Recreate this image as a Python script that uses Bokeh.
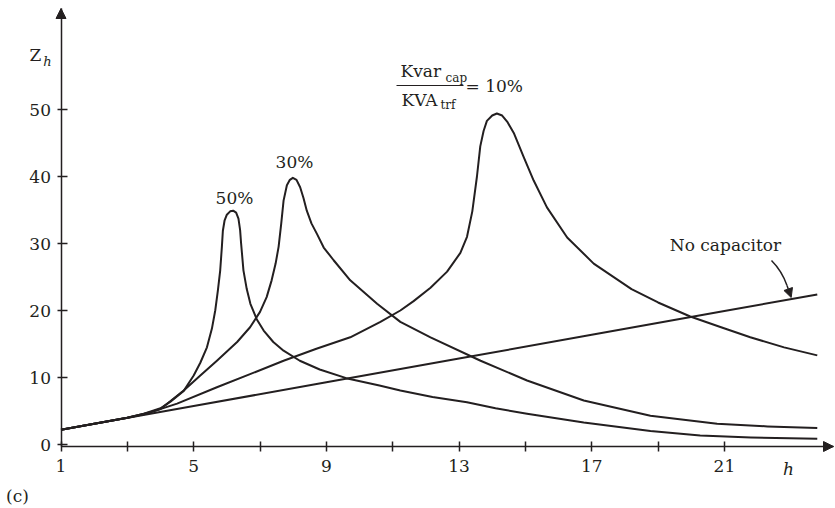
from bokeh.plotting import figure
from bokeh.models import Range1d, FixedTicker, Label, Arrow, NormalHead
from bokeh.embed import file_html
from bokeh.resources import INLINE

# ---------------- data ----------------
h_50 = [1.0, 2.0, 3.0, 3.5, 4.0, 4.3, 4.7, 5.0, 5.2, 5.4, 5.55, 5.65, 5.73, 5.80, 5.85,
        5.88, 5.93, 6.0, 6.1, 6.19, 6.28, 6.35, 6.40, 6.43, 6.5, 6.6, 6.71, 6.9, 7.11,
        7.4, 7.71, 8.2, 8.8, 9.6, 10.6, 11.23, 12.2, 13.24, 14.1, 15.05, 16.76, 18.77,
        20.27, 21.8, 23.8]
z_50 = [2.2, 3.1, 4.0, 4.6, 5.4, 6.4, 8.0, 10.3, 12.2, 14.5, 17.3, 20.0, 23.0, 26.0, 29.5,
        31.9, 33.4, 34.3, 34.8, 34.9, 34.6, 33.7, 32.0, 30.0, 26.0, 23.2, 21.0, 18.7, 17.0,
        15.3, 14.0, 12.5, 11.2, 9.9, 8.8, 8.06, 7.1, 6.3, 5.4, 4.6, 3.3, 2.0,
        1.34, 1.05, 0.85]

h_30 = [1.0, 2.0, 3.0, 3.5, 4.0, 4.7, 5.2, 5.7, 6.31, 6.7, 7.0, 7.2, 7.35, 7.47, 7.56,
        7.64, 7.71, 7.81, 7.9, 7.99, 8.1, 8.21, 8.31, 8.41, 8.55, 8.72, 8.92, 9.22, 9.72,
        10.53, 11.23, 12.14, 13.65, 15.05, 16.76, 18.77, 20.78, 22.3, 23.8]
z_30 = [2.2, 3.1, 4.0, 4.5, 5.3, 8.06, 10.3, 12.5, 15.3, 17.5, 19.8, 22.0, 24.5, 27.0, 29.5,
        33.0, 36.4, 38.7, 39.5, 39.8, 39.5, 38.4, 36.8, 34.9, 33.0, 31.4, 29.4, 27.5, 24.5,
        21.0, 18.3, 16.0, 12.5, 9.55, 6.57, 4.3, 3.1, 2.7, 2.45]

h_10 = [1.0, 2.0, 3.0, 3.69, 4.5, 5.7, 6.7, 7.71, 8.7, 9.72, 10.63, 11.23, 11.63, 12.14,
        12.64, 13.04, 13.24, 13.40, 13.54, 13.64, 13.74, 13.84, 14.0, 14.14, 14.3, 14.45,
        14.65, 14.95, 15.25, 15.65, 16.26, 17.06, 18.2, 19.0, 19.97, 20.9, 21.78, 22.8, 23.8]
z_10 = [2.2, 3.1, 4.0, 4.8, 6.1, 8.55, 10.5, 12.5, 14.3, 16.0, 18.3, 20.0, 21.4, 23.4,
        25.8, 28.6, 31.0, 34.8, 40.0, 44.5, 46.8, 48.3, 49.1, 49.4, 49.1, 48.2,
        46.5, 42.9, 39.4, 35.4, 30.9, 27.0, 23.2, 21.2, 19.1, 17.5, 16.0, 14.5, 13.3]

h_nocap = [1, 5, 9, 13, 17, 21, 23.8]
z_nocap = [2.2, 5.74, 9.29, 12.83, 16.38, 19.92, 22.4]

x_ticks = [1, 3, 5, 7, 9, 11, 13, 15, 17, 19, 21]
x_tick_labels = {1: "1", 3: "", 5: "5", 7: "", 9: "9", 11: "", 13: "13",
                 15: "", 17: "17", 19: "", 21: "21"}
y_ticks = [0, 10, 20, 30, 40, 50]

# ---------------- styling / layout ----------------
INK = "#231f20"
FONT = "DejaVu Serif"
FS = "17px"

W, H = 835, 508
PX_PER_H = 33.17     # pixels per harmonic order
PX_PER_Z = 6.7       # pixels per impedance unit
H1_PX = 60.5         # page x of h = 1 (vertical axis)
Z0_PX = 444.0        # page y of Z = 0
AXIS_Y_PX = 446.0    # page y of the horizontal axis line

def hx(px):
    return 1 + (px - H1_PX) / PX_PER_H

def zy(py):
    return (Z0_PX - py) / PX_PER_Z

p = figure(width=W, height=H, output_backend="svg", toolbar_location=None,
           x_range=Range1d(hx(0), hx(W)), y_range=Range1d(zy(H), zy(0)),
           min_border=0, min_border_left=0, min_border_right=0,
           min_border_top=0, min_border_bottom=0,
           background_fill_color="white", border_fill_color="white")
p.outline_line_color = None
p.xgrid.visible = False
p.ygrid.visible = False

for ax in (p.xaxis[0], p.yaxis[0]):
    ax.axis_line_color = INK
    ax.axis_line_width = 1.5
    ax.major_tick_line_color = INK
    ax.major_tick_line_width = 1.5
    ax.minor_tick_line_color = None
    ax.major_label_text_font = FONT
    ax.major_label_text_font_size = FS
    ax.major_label_text_color = INK

p.xaxis.fixed_location = zy(AXIS_Y_PX)
p.xaxis.bounds = (1, hx(833))
p.xaxis.ticker = FixedTicker(ticks=x_ticks)
p.xaxis.major_label_overrides = {k: v for k, v in x_tick_labels.items()}
p.xaxis.major_tick_in = 5
p.xaxis.major_tick_out = 5
p.xaxis.major_label_standoff = 8

p.yaxis.fixed_location = 1
p.yaxis.bounds = (zy(AXIS_Y_PX), zy(8))
p.yaxis.ticker = FixedTicker(ticks=y_ticks)
p.yaxis.major_tick_in = 6
p.yaxis.major_tick_out = 4
p.yaxis.major_label_standoff = 6

# axis arrow heads
p.add_layout(Arrow(end=NormalHead(size=10, fill_color=INK, line_color=INK),
                   x_start=1, y_start=zy(18), x_end=1, y_end=zy(8),
                   line_color=INK, line_width=1.5))
p.add_layout(Arrow(end=NormalHead(size=10, fill_color=INK, line_color=INK),
                   x_start=hx(823), y_start=zy(AXIS_Y_PX), x_end=hx(833), y_end=zy(AXIS_Y_PX),
                   line_color=INK, line_width=1.5))

# curves
for hs, zs in ((h_nocap, z_nocap), (h_50, z_50), (h_30, z_30), (h_10, z_10)):
    p.line(hs, zs, line_color=INK, line_width=2, line_join="round")

def lab(text, px, py, size=FS, style="normal", align="center"):
    p.add_layout(Label(x=hx(px), y=zy(py), text=text, text_font=FONT,
                       text_font_size=size, text_font_style=style,
                       text_color=INK, text_align=align, text_baseline="middle"))

# curve labels
lab("50%", 234, 197)
lab("30%", 294, 161)
lab("Kvar", 400, 70, align="left")
lab("cap", 445, 77, size="12px", align="left")
p.add_layout(Arrow(start=None, end=None, x_start=hx(396), y_start=zy(85),
                   x_end=hx(463), y_end=zy(85), line_color=INK, line_width=1.2))
lab("= 10%", 465, 85, align="left")
lab("KVA", 401, 99, align="left")
lab("trf", 440, 104, size="12px", align="left")

lab("No capacitor", 725, 244)
p.bezier(x0=[hx(771)], y0=[zy(260)], x1=[hx(786.5)], y1=[zy(285)],
         cx0=[hx(777)], cy0=[zy(266)], cx1=[hx(783)], cy1=[zy(275)],
         line_color=INK, line_width=1.5)
p.add_layout(Arrow(end=NormalHead(size=9, fill_color=INK, line_color=INK),
                   x_start=hx(786.5), y_start=zy(285), x_end=hx(790.7), y_end=zy(297),
                   line_color=INK, line_width=1.5))

# axis titles and panel tag
lab("Z", 35, 54)
lab("h", 47, 61, size="13px", style="italic")
lab("h", 788, 468, style="italic")
lab("(c)", 17, 495)

open("out.html", "w").write(file_html(p, INLINE))
